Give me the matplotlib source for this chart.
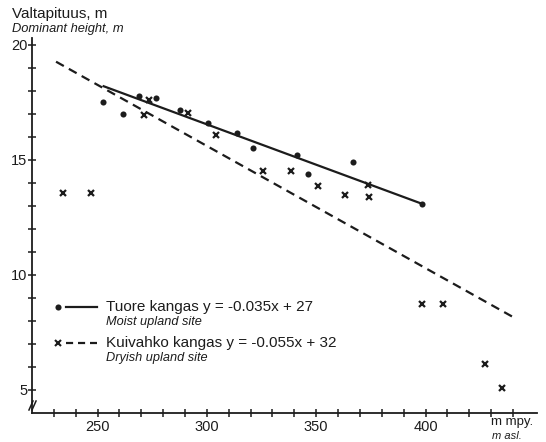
import matplotlib
matplotlib.use("Agg")
import matplotlib.pyplot as plt
from matplotlib.ticker import FixedLocator

plt.rcParams['font.family'] = ['Liberation Sans', 'DejaVu Sans']

INK = '#1c1c1c'

# Tuore kangas (moist upland site)
moist_x = [252.4, 261.4, 269.0, 276.9, 287.7, 300.6, 313.9, 321.2, 341.3, 346.3, 366.9, 398.5]
moist_y = [17.53, 16.99, 17.78, 17.71, 17.17, 16.62, 16.16, 15.51, 15.22, 14.38, 14.90, 13.09]

# Kuivahko kangas (dryish upland site)
dry_x = [234.2, 247.0, 271.3, 273.6, 291.4, 304.0, 325.6, 338.6, 351.0, 363.4,
         373.7, 374.3, 398.2, 408.1, 427.4, 434.8]
dry_y = [13.57, 13.58, 16.96, 17.60, 17.03, 16.09, 14.53, 14.53, 13.87, 13.47,
         13.90, 13.38, 8.73, 8.73, 6.13, 5.09]

# regression lines (end points)
moist_line_x = [252.3, 398.5]
moist_line_y = [18.22, 13.09]
dry_line_x = [231.0, 441.0]
dry_line_y = [19.27, 8.12]

x_labels = [250, 300, 350, 400]
y_labels = [5, 10, 15, 20]

W, H = 546, 442
fig = plt.figure(figsize=(W / 100, H / 100), dpi=100)
ax = fig.add_axes([32 / W, (H - 413) / H, 505 / W, 375 / H])

ax.plot(moist_line_x, moist_line_y, color=INK, lw=1.6, solid_capstyle='butt')
ax.plot(dry_line_x, dry_line_y, color=INK, lw=1.6, dashes=(4, 2.6))
ax.plot(moist_x, moist_y, 'o', color=INK, ms=4.4, mec='none')
ax.plot(dry_x, dry_y, 'x', color=INK, ms=5, mew=1.6)

ax.set_xlim(220, 451)
ax.set_ylim(4, 20.3)

for s in ['top', 'right']:
    ax.spines[s].set_visible(False)
for s in ['left', 'bottom']:
    ax.spines[s].set_linewidth(1.3)
    ax.spines[s].set_color(INK)

ax.xaxis.set_major_locator(FixedLocator(x_labels))
ax.xaxis.set_minor_locator(FixedLocator([v for v in range(230, 441, 10) if v not in x_labels]))
ax.yaxis.set_major_locator(FixedLocator(y_labels))
ax.yaxis.set_minor_locator(FixedLocator([v for v in range(5, 21) if v not in y_labels]))
ax.tick_params(which='both', direction='inout', length=6, width=1.1, color=INK,
               labelsize=10.5, labelcolor=INK)
ax.tick_params(axis='y', which='both', pad=0.5)
ax.tick_params(axis='x', which='both', pad=2)

# axis break mark on the y axis
for dx in (0.0, 0.006):
    ax.plot([-0.006 + dx, 0.002 + dx], [0.008, 0.032], transform=ax.transAxes,
            color=INK, lw=1.1, clip_on=False)

# axis titles
fig.text(12 / W, 1 - 14 / H, 'Valtapituus, m', fontsize=11, color=INK, va='center')
fig.text(12 / W, 1 - 29 / H, 'Dominant height, m', fontsize=9.3, style='italic',
         color=INK, va='center')
fig.text(491 / W, 1 - 422 / H, 'm mpy.', fontsize=9.5, color=INK, va='center')
fig.text(492 / W, 1 - 436 / H, 'm asl.', fontsize=8, style='italic', color=INK, va='center')

# legend drawn by hand
def fx(px):
    return px / W

def fy(py):
    return 1 - py / H

leg = [
    ('o', '-', 307, 'Tuore kangas y = -0.035x + 27', 'Moist upland site'),
    ('x', '--', 343, 'Kuivahko kangas y = -0.055x + 32', 'Dryish upland site'),
]
for mk, ls, py, t1, t2 in leg:
    if mk == 'o':
        fig.lines.append(plt.Line2D([fx(58)], [fy(py)], marker='o', ms=4.4, color=INK,
                                    mec='none', transform=fig.transFigure))
        fig.lines.append(plt.Line2D([fx(66), fx(97)], [fy(py), fy(py)], lw=1.6, color=INK,
                                    transform=fig.transFigure))
    else:
        fig.lines.append(plt.Line2D([fx(58)], [fy(py)], marker='x', ms=4.5, mew=1.5,
                                    color=INK, transform=fig.transFigure))
        fig.lines.append(plt.Line2D([fx(66), fx(97)], [fy(py), fy(py)], lw=1.6, color=INK,
                                    dashes=(3.2, 2.2), transform=fig.transFigure))
    fig.text(fx(106), fy(py), t1, fontsize=11, color=INK, va='center')
    fig.text(fx(106), fy(py + 15), t2, fontsize=9.2, style='italic', color=INK, va='center')

fig.savefig('out.png', dpi=100)
